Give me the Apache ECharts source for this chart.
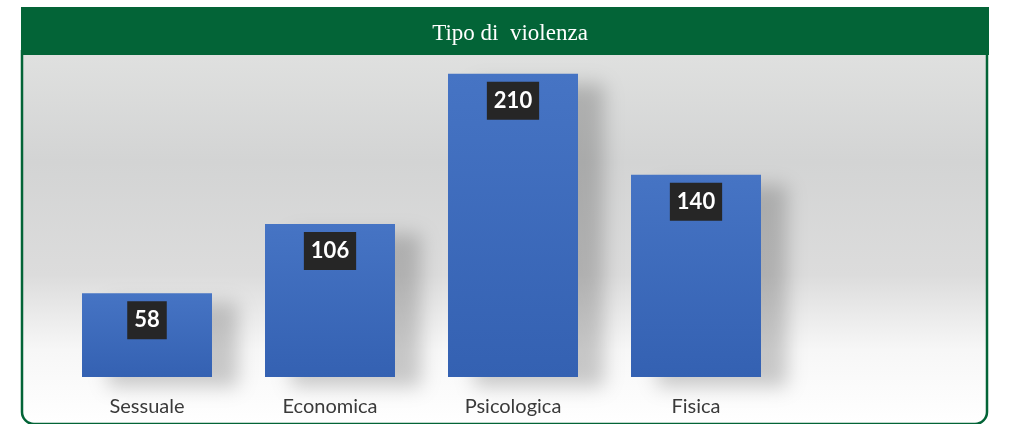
<!DOCTYPE html>
<html>
<head>
<meta charset="utf-8">
<title>Tipo di violenza</title>
<script src="https://cdn.jsdelivr.net/npm/echarts@6/dist/echarts.min.js"></script>
<style>
  html, body { margin: 0; padding: 0; background: #fff; }
  #main { width: 1017px; height: 424px; }
</style>
</head>
<body>
<div id="main"></div>
<script type="text/javascript">
var categories = ['Sessuale', 'Economica', 'Psicologica', 'Fisica'];
var values = [58, 106, 210, 140];
var titleText = 'Tipo di  violenza';

var myChart = echarts.init(document.getElementById('main'));

var option = {
    animation: false,
    title: {
        text: titleText,
        left: 505,
        top: 17,
        textAlign: 'center',
        textStyle: {
            color: '#ffffff',
            fontFamily: 'Liberation Serif',
            fontWeight: 'normal',
            fontSize: 23
        }
    },
    graphic: [
        {
            type: 'rect',
            z: -10,
            shape: { x: 22, y: 50, width: 965, height: 374, r: [0, 0, 12, 12] },
            style: {
                fill: new echarts.graphic.LinearGradient(0, 0, 0, 1, [
                    { offset: 0, color: '#e0e1e0' },
                    { offset: 0.3, color: '#d3d4d4' },
                    { offset: 0.6, color: '#dcdcdc' },
                    { offset: 0.8, color: '#f7f7f7' },
                    { offset: 1, color: '#ffffff' }
                ]),
                stroke: '#036437',
                lineWidth: 2.5
            }
        },
        {
            type: 'rect',
            z: -5,
            shape: { x: 21, y: 7, width: 968, height: 48 },
            style: { fill: '#036437' }
        }
    ],
    grid: {
        left: 55.5,
        width: 732,
        top: 16,
        bottom: 47
    },
    xAxis: {
        type: 'category',
        data: categories,
        axisLine: { show: false },
        axisTick: { show: false },
        axisLabel: {
            color: '#3a3a3a',
            fontFamily: 'Lato',
            fontSize: 20,
            margin: 20
        }
    },
    yAxis: {
        type: 'value',
        min: 0,
        max: 250,
        show: false,
        splitLine: { show: false }
    },
    series: [{
        type: 'bar',
        data: values,
        barWidth: 130,
        itemStyle: {
            color: new echarts.graphic.LinearGradient(0, 0, 0, 1, [
                { offset: 0, color: '#4674c4' },
                { offset: 1, color: '#3461b2' }
            ]),
            shadowColor: 'rgba(0,0,0,0.2)',
            shadowBlur: 18,
            shadowOffsetX: 26,
            shadowOffsetY: 10
        },
        label: {
            show: true,
            position: 'insideTop',
            distance: 8,
            color: '#ffffff',
            fontFamily: 'Lato',
            fontWeight: 'bold',
            fontSize: 22,
            lineHeight: 24,
            backgroundColor: '#262626',
            padding: [7, 7]
        }
    }]
};

myChart.setOption(option);
</script>
</body>
</html>
